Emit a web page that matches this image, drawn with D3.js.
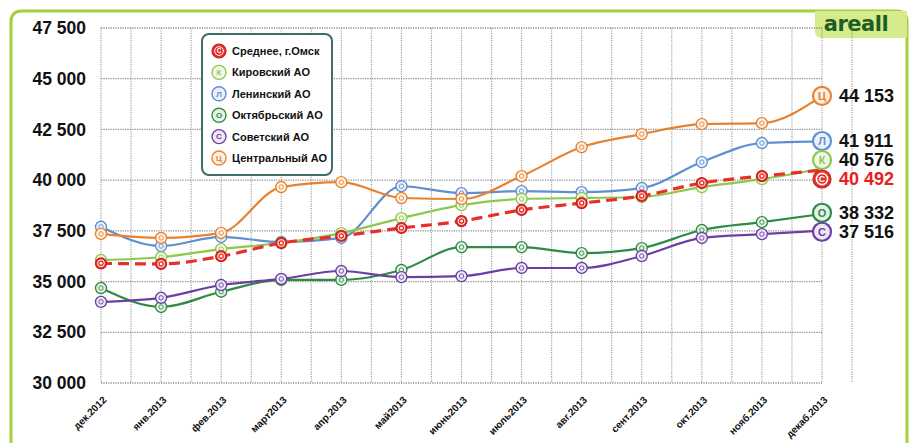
<!DOCTYPE html>
<html><head><meta charset="utf-8">
<script src="https://cdn.jsdelivr.net/npm/d3@7"></script>
<style>
html,body{margin:0;padding:0;background:#fff;}
svg{display:block;font-family:"Liberation Sans",Arial,sans-serif;}
</style></head>
<body><svg id="c" width="909" height="443"></svg>
<script>
const months = ["дек.2012","янв.2013","фев.2013","март2013","апр.2013","май2013","июнь2013","июль2013","авг.2013","сент.2013","окт.2013","нояб.2013","декаб.2013"];
const yTicks = [30000,32500,35000,37500,40000,42500,45000,47500];

const avgOmsk   = [35900,35870,36250,36900,37250,37640,37980,38530,38870,39220,39860,40200,40492];
const kirovsky  = [36060,36200,36600,36900,37390,38130,38770,39070,39120,39170,39660,40050,40576];
const leninsky  = [37700,36750,37200,36950,37150,39700,39360,39460,39410,39610,40890,41830,41911];
const oktyabr   = [34680,33750,34500,35080,35080,35570,36700,36700,36400,36650,37540,37930,38332];
const sovetsky  = [34000,34200,34830,35130,35520,35220,35270,35670,35670,36260,37150,37340,37516];
const central   = [37350,37150,37400,39660,39900,39120,39070,40200,41630,42270,42760,42810,44153];

const seriesNames = ["Среднее, г.Омск","Кировский АО","Ленинский АО","Октябрьский АО","Советский АО","Центральный АО"];
const seriesLetters = ["С","К","Л","О","С","Ц"];
const seriesColors = ["#e8302a","#8cc84b","#5f8fd0","#2f8a42","#6b3fa3","#e8822e"];
const seriesData = [avgOmsk,kirovsky,leninsky,oktyabr,sovetsky,central];
const endLabels = ["40 492","40 576","41 911","38 332","37 516","44 153"];

const svg = d3.select("#c");
const L = 101, R = 822, T = 28, B = 383;
const x = d3.scaleLinear().domain([0, months.length-1]).range([L, R]);
const y = d3.scaleLinear().domain([30000, 47500]).range([B, T]);

// frame
svg.append("path")
  .attr("d", "M11,445 L11,22 Q11,11 22,11 L897,11 Q907,11 907,22 L907,445")
  .attr("fill","none").attr("stroke","#a6cf3c").attr("stroke-width",3);

// logo tab
svg.append("path")
  .attr("d","M815,11 L907,11 L907,38 L822,38 Q815,38 815,31 Z")
  .attr("fill","#d6eb8c");
svg.append("text").attr("x",856).attr("y",31).attr("text-anchor","middle")
  .attr("font-size",21).attr("font-weight","bold").attr("fill","#1d5e25")
  .attr("font-family","'DejaVu Sans',sans-serif").attr("letter-spacing","-0.5")
  .text("areall");

// grid
const g = svg.append("g");
d3.range(0, months.length-0.5+0.01, 0.5).forEach(i=>{
  g.append("line").attr("x1",x(i)).attr("x2",x(i)).attr("y1",T).attr("y2",B)
   .attr("stroke","#9a9a9a").attr("stroke-width",1.1).attr("stroke-dasharray","1.2,1.2");
});
yTicks.forEach(v=>{
  g.append("line").attr("x1",L).attr("x2",R).attr("y1",y(v)).attr("y2",y(v))
   .attr("stroke","#8a8a8a").attr("stroke-width",1.3).attr("stroke-dasharray","1.2,1.2");
});

// y axis labels
const yAxis = d3.axisLeft(y).tickValues(yTicks).tickSize(0).tickPadding(0)
  .tickFormat(d=>d3.format(",")(d).replace(",", " "));
const ya = svg.append("g").attr("transform","translate(86,0)").call(yAxis);
ya.select(".domain").remove();
ya.selectAll("text").attr("font-size",17.5).attr("font-weight","bold").attr("fill","#111")
  .attr("font-family","'Liberation Sans',Arial,sans-serif");

// x axis labels
const xAxis = d3.axisBottom(x).tickValues(d3.range(months.length)).tickSize(0)
  .tickFormat(i=>months[i]);
const xa = svg.append("g").attr("transform",`translate(0,${B})`).call(xAxis);
xa.select(".domain").remove();
xa.selectAll("text").attr("font-size",10).attr("font-weight","bold").attr("fill","#111")
  .attr("font-family","'Liberation Sans',Arial,sans-serif")
  .attr("text-anchor","end").attr("dy","0.35em")
  .attr("transform","translate(1,13) rotate(-45)");

// lines
const line = d3.line().x((d,i)=>x(i)).y(d=>y(d)).curve(d3.curveMonotoneX);
const order = [3,4,2,1,5,0];
order.forEach(k=>{
  svg.append("path").datum(seriesData[k]).attr("d",line)
    .attr("fill","none").attr("stroke",seriesColors[k])
    .attr("stroke-width", k===0?3.2:2.2)
    .attr("stroke-dasharray", k===0?"11,6":null);
});

function marker(parent, cx, cy, r, k, fs, withText){
  const c = seriesColors[k];
  const gg = parent.append("g").attr("transform",`translate(${cx},${cy})`);
  if(k===0){
    gg.append("circle").attr("r",r).attr("fill",c).attr("stroke","#c81e1e").attr("stroke-width",1.2);
    gg.append("circle").attr("r",r*0.62).attr("fill","none").attr("stroke","#fff").attr("stroke-width",r>7?1.6:1);
    if(withText) gg.append("text").attr("text-anchor","middle").attr("dy","0.36em").attr("font-size",fs*0.8)
      .attr("font-weight","bold").attr("fill","#fff").text("С");
    else gg.append("circle").attr("r",r*0.25).attr("fill","#fff");
  } else {
    gg.append("circle").attr("r",r).attr("fill","#fff").attr("stroke",c).attr("stroke-width",r>7?2.2:1.4);
    gg.append("circle").attr("r",r-1).attr("fill",c).attr("fill-opacity",0.12);
    if(withText) gg.append("text").attr("text-anchor","middle").attr("dy","0.36em").attr("font-size",fs)
      .attr("font-weight","bold").attr("fill",c).text(seriesLetters[k]);
    else gg.append("circle").attr("r",r*0.4).attr("fill","none").attr("stroke",c).attr("stroke-width",0.9);
  }
}

// point markers (excluding last)
order.forEach(k=>{
  seriesData[k].slice(0,-1).forEach((v,i)=>{
    marker(svg, x(i), y(v), 5.5, k, 7, false);
  });
});

// end markers and labels with simple collision avoidance
const last = months.length-1;
let ends = seriesData.map((s,k)=>({k, y:y(s[last])}));
ends.sort((a,b)=>a.y-b.y);
const gap = 19;
for(let it=0; it<20; it++){
  for(let j=1;j<ends.length;j++){
    const d = ends[j].y - ends[j-1].y;
    if(d < gap){ const sh=(gap-d)/2; ends[j].y+=sh; ends[j-1].y-=sh; }
  }
}
const endDraw = [3,4,2,1,5,0];
endDraw.forEach(k=>{
  const e = ends.find(o=>o.k===k);
  marker(svg, x(last), e.y, 9, k, 11, true);
  svg.append("text").attr("x",839).attr("y",e.y).attr("dy","0.36em")
    .attr("font-size",18).attr("font-weight","bold")
    .attr("fill", k===0?"#e8201c":"#111").text(endLabels[k]);
});

// legend
const lg = svg.append("g");
lg.append("rect").attr("x",202).attr("y",34).attr("width",130).attr("height",141)
  .attr("rx",7).attr("fill","#fff").attr("stroke","#3f6e6a").attr("stroke-width",2);
seriesNames.forEach((n,k)=>{
  const cy = 51 + k*21.4;
  marker(lg, 219, cy, 7, k, 8, true);
  lg.append("text").attr("x",232).attr("y",cy).attr("dy","0.36em")
    .attr("font-size",11).attr("font-weight","bold").attr("fill","#111").text(n);
});
</script></body></html>
